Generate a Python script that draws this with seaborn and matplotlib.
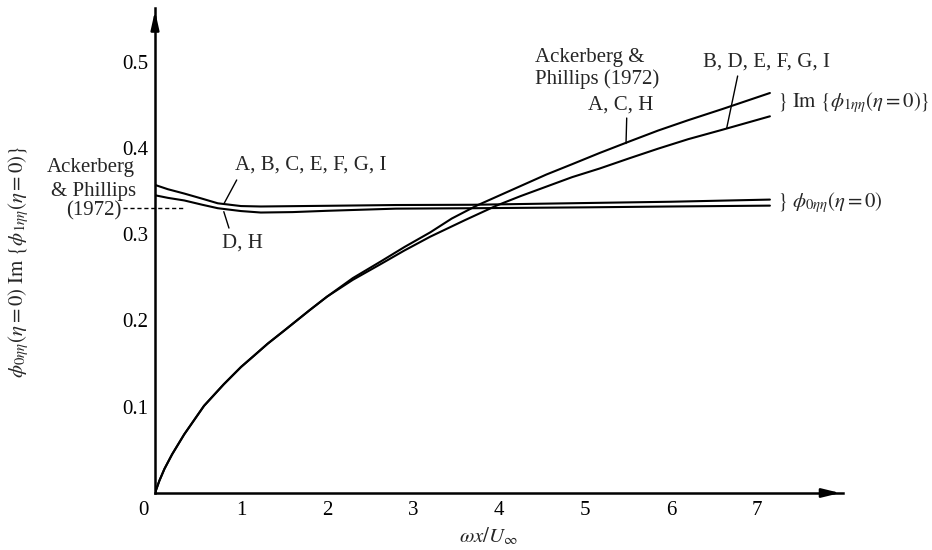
import matplotlib
matplotlib.use("Agg")
import matplotlib.pyplot as plt
import matplotlib.transforms as mtransforms
import seaborn as sns
import pandas as pd

# ---- data ----
x_im_upper = [0.0, 0.05, 0.11, 0.2, 0.34, 0.57, 0.8, 1.0, 1.15, 1.31, 1.5, 1.65, 1.8, 2.0, 2.3, 2.62,
              2.9, 3.2, 3.45, 3.74, 4.1, 4.55, 4.85, 5.17, 5.52, 5.85, 6.2, 6.6, 7.15]
y_im_upper = [0.0, 0.014, 0.028, 0.045, 0.068, 0.101, 0.126, 0.146, 0.159, 0.173, 0.188, 0.200, 0.212, 0.2275, 0.249, 0.268,
              0.285, 0.302, 0.318, 0.333, 0.349, 0.369, 0.381, 0.394, 0.4075, 0.420, 0.432, 0.445, 0.4635]

x_im_lower = [0.0, 0.05, 0.11, 0.2, 0.34, 0.57, 0.8, 1.0, 1.15, 1.31, 1.5, 1.65, 1.8, 2.0, 2.3, 2.62,
              2.9, 3.2, 3.6, 3.97, 4.25, 4.55, 4.85, 5.17, 5.52, 5.85, 6.2, 6.6, 7.15]
y_im_lower = [0.0, 0.014, 0.028, 0.045, 0.068, 0.101, 0.126, 0.146, 0.159, 0.173, 0.188, 0.200, 0.212, 0.2275, 0.247, 0.265,
              0.281, 0.297, 0.316, 0.333, 0.344, 0.355, 0.366, 0.376, 0.388, 0.399, 0.410, 0.421, 0.4365]

x_phi0_upper = [0.0, 0.15, 0.34, 0.55, 0.73, 1.0, 1.23, 2.0, 2.8, 3.7, 5.0, 6.0, 7.15]
y_phi0_upper = [0.357, 0.352, 0.347, 0.341, 0.3357, 0.3325, 0.332, 0.3328, 0.3337, 0.334, 0.336, 0.3375, 0.340]

x_phi0_lower = [0.0, 0.15, 0.34, 0.55, 0.73, 1.0, 1.23, 1.6, 2.0, 2.8, 3.7, 5.0, 6.0, 7.15]
y_phi0_lower = [0.345, 0.342, 0.339, 0.334, 0.330, 0.3267, 0.325, 0.3255, 0.327, 0.3295, 0.330, 0.331, 0.332, 0.333]

ap_dash_x = [-0.37, 0.34]
ap_dash_y = [0.330, 0.330]

x_ticks = [0, 1, 2, 3, 4, 5, 6, 7]
x_tick_labels = ["0", "1", "2", "3", "4", "5", "6", "7"]
y_ticks = [0.1, 0.2, 0.3, 0.4, 0.5]
y_tick_labels = ["0.1", "0.2", "0.3", "0.4", "0.5"]

sns.set_theme(style="white")
plt.rcParams["font.family"] = ["Liberation Serif", "DejaVu Serif"]
plt.rcParams["mathtext.fontset"] = "stix"

fig = plt.figure(figsize=(9.32, 5.5), dpi=100)
ax = fig.add_axes([155 / 932, 57 / 550, 688 / 932, 485 / 550])

series = [
    (x_im_upper, y_im_upper),
    (x_im_lower, y_im_lower),
    (x_phi0_upper, y_phi0_upper),
    (x_phi0_lower, y_phi0_lower),
]
for xs, ys in series:
    df = pd.DataFrame({"x": xs, "y": ys})
    sns.lineplot(data=df, x="x", y="y", ax=ax, color="black", lw=1.5,
                 sort=False, estimator=None)

ax.plot(ap_dash_x, ap_dash_y, color="black", lw=1.0, ls=(0, (3, 2)), clip_on=False)

ax.set_xlim(0, 8.0)
ax.set_ylim(0, 0.562)
ax.set_xticks(x_ticks)
ax.set_xticklabels(x_tick_labels)
ax.set_yticks(y_ticks)
ax.set_yticklabels(y_tick_labels)
ax.tick_params(axis="x", direction="in", length=7.5, width=1.5, labelsize=15, pad=6, colors="black")
ax.tick_params(axis="y", direction="in", length=6, width=1.5, labelsize=15, pad=5, colors="black")
ax.set_xlabel("")
ax.set_ylabel("")
for s in ["top", "right"]:
    ax.spines[s].set_visible(False)
for s in ["left", "bottom"]:
    ax.spines[s].set_color("black")
    ax.spines[s].set_linewidth(1.8)

# shift the "0" tick label left as in the reference
lbl0 = ax.get_xticklabels()[0]
lbl0.set_transform(lbl0.get_transform() + mtransforms.ScaledTranslation(-12 / 100, 0, fig.dpi_scale_trans))

# arrow heads
ax.annotate("", xy=(1.0, 0), xytext=(0.965, 0), xycoords="axes fraction",
            arrowprops=dict(arrowstyle="-|>,head_length=0.9,head_width=0.22", color="black", lw=1.8),
            annotation_clip=False)
ax.annotate("", xy=(0, 1.0), xytext=(0, 0.96), xycoords="axes fraction",
            arrowprops=dict(arrowstyle="-|>,head_length=0.9,head_width=0.2", color="black", lw=1.8),
            annotation_clip=False)

fs = 15
# annotations
ax.text(0.93, 0.3745, "A, B, C, E, F, G, I", fontsize=fs, ha="left", va="baseline")
ax.plot([0.95, 0.80], [0.3627, 0.3349], color="black", lw=1.0)
ax.text(0.78, 0.284, "D, H", fontsize=fs, ha="left", va="baseline")
ax.plot([0.80, 0.86], [0.326, 0.307], color="black", lw=1.0)

ax.text(-0.235, 0.3715, "Ackerberg", fontsize=fs, ha="right", va="baseline", clip_on=False)
ax.text(-0.221, 0.3445, "& Phillips", fontsize=fs, ha="right", va="baseline", clip_on=False)
ax.text(-0.384, 0.3215, "(1972)", fontsize=fs, ha="right", va="baseline", clip_on=False)

ax.text(4.42, 0.4994, "Ackerberg &", fontsize=fs, ha="left", va="baseline")
ax.text(4.42, 0.474, "Phillips (1972)", fontsize=fs, ha="left", va="baseline")
ax.text(5.03, 0.4438, "A, C, H", fontsize=fs, ha="left", va="baseline")
ax.plot([5.485, 5.477], [0.4345, 0.405], color="black", lw=1.0)
ax.text(6.37, 0.4936, "B, D, E, F, G, I", fontsize=fs, ha="left", va="baseline")
ax.plot([6.775, 6.647], [0.4832, 0.4225], color="black", lw=1.0)

ax.text(7.23, 0.452, r"$\}\ \mathrm{Im}\ \{\phi_{1\eta\eta}(\eta = 0)\}$", fontsize=fs,
        ha="left", va="center", clip_on=False)
ax.text(7.23, 0.337, r"$\}\ \phi_{0\eta\eta}(\eta = 0)$", fontsize=fs,
        ha="left", va="center", clip_on=False)

fig.text(488 / 932, 1 - 536 / 550, r"$\omega x/U_\infty$", fontsize=fs, ha="center", va="center")
fig.text(19 / 932, 1 - 262 / 550,
         r"$\phi_{0\eta\eta}(\eta = 0)\ \mathrm{Im}\ \{\phi_{1\eta\eta}(\eta = 0)\}$",
         fontsize=fs, rotation=90, ha="center", va="center")

fig.savefig("out.png", dpi=100, facecolor="white")
